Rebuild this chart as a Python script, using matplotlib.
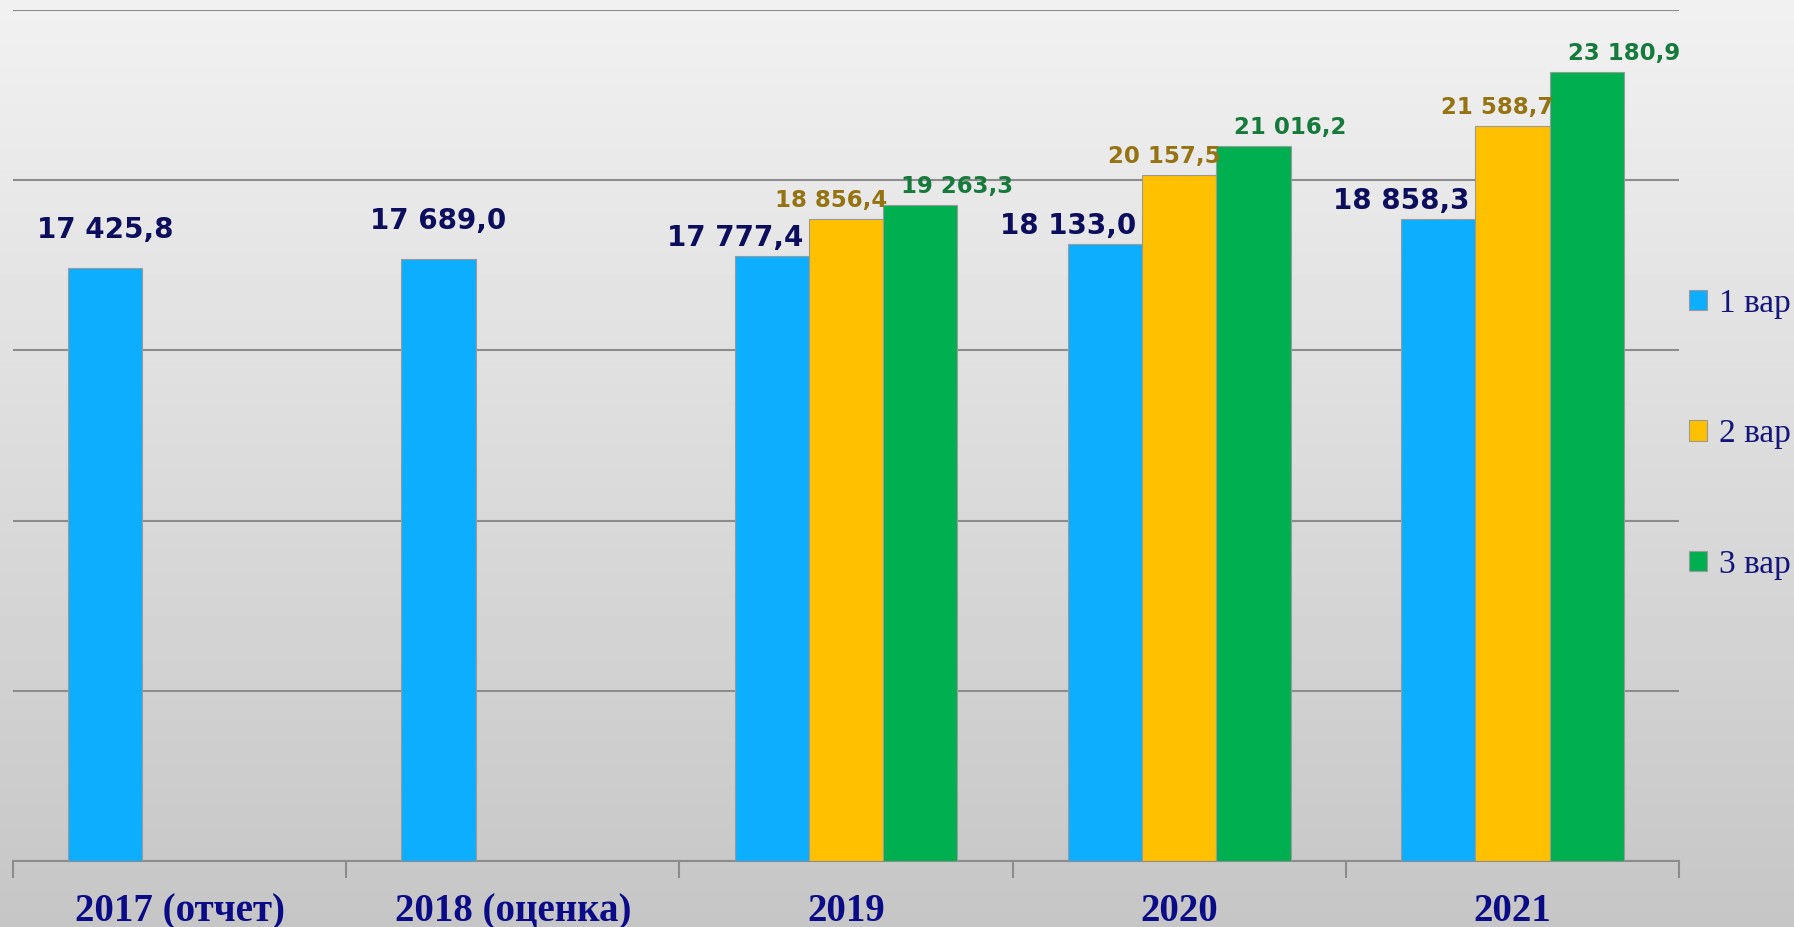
import numpy as np
import matplotlib.pyplot as plt
from matplotlib.patches import Patch

# data
years = ['2017 (отчет)', '2018 (оценка)', '2019', '2020', '2021']
var1 = [17425.8, 17689.0, 17777.4, 18133.0, 18858.3]
var2 = [np.nan, np.nan, 18856.4, 20157.5, 21588.7]
var3 = [np.nan, np.nan, 19263.3, 21016.2, 23180.9]
series_names = ['1 вар', '2 вар', '3 вар']

bar_colors = ['#0eaeff', '#ffc000', '#00b050']
label_colors = ['#0d0d5e', '#957312', '#167a3c']

def fmt(v):
    s = f'{v:,.1f}'
    return s.replace(',', ' ').replace('.', ',')

fig = plt.figure(figsize=(17.94, 9.27), dpi=100)

# gradient background
bg = fig.add_axes([0, 0, 1, 1], zorder=-10)
grad = np.linspace(0.945, 0.775, 256).reshape(-1, 1)
bg.imshow(grad, cmap='gray', vmin=0, vmax=1, aspect='auto', extent=[0, 1, 0, 1])
bg.axis('off')

ax = fig.add_axes([13 / 1794, 1 - 861 / 927, (1679 - 13) / 1794, (861 - 10) / 927])
ax.patch.set_alpha(0)

x = np.arange(len(years))
w = 0.223
series = [var1, var2, var3]
for i, vals in enumerate(series):
    ax.bar(x + (i - 1) * w, vals, w, color=bar_colors[i], edgecolor='#9a9a9a',
           linewidth=0.8, zorder=3)

# value labels
for j in range(len(years)):
    single = np.isnan(var2[j])
    for i, vals in enumerate(series):
        v = vals[j]
        if np.isnan(v):
            continue
        xc = x[j] + (i - 1) * w
        if i == 0:
            if single:
                ax.annotate(fmt(v), (xc, v), xytext=(0, 17), textcoords='offset points',
                            ha='center', va='bottom', fontsize=20, fontweight='bold',
                            color=label_colors[0])
            else:
                ax.annotate(fmt(v), (xc + w / 2, v), xytext=(-4, 3), textcoords='offset points',
                            ha='right', va='bottom', fontsize=20, fontweight='bold',
                            color=label_colors[0])
        elif i == 1:
            ax.annotate(fmt(v), (xc + w / 2, v), xytext=(3, 5), textcoords='offset points',
                        ha='right', va='bottom', fontsize=16.5, fontweight='bold',
                        color=label_colors[1])
        else:
            ax.annotate(fmt(v), (xc - w / 2, v), xytext=(13, 5), textcoords='offset points',
                        ha='left', va='bottom', fontsize=16.5, fontweight='bold',
                        color=label_colors[2])

ax.set_xlim(-0.5, len(years) - 0.5)
ax.set_ylim(0, 25000)
ax.set_yticks(np.arange(0, 25001, 5000))
ax.yaxis.grid(True, color='#8c8c8c', linewidth=1.5, zorder=0)
ax.tick_params(axis='y', length=0, labelleft=False)

ax.set_xticks(x)
ax.set_xticklabels(years, fontfamily='Liberation Serif', fontweight='bold',
                   fontsize=28, color='#0b0b87')
ax.tick_params(axis='x', which='major', length=0, pad=23)
ax.set_xticks(np.arange(-0.5, len(years)), minor=True)
ax.tick_params(axis='x', which='minor', length=12, width=1.5, color='#8c8c8c')

for s in ['top', 'right', 'left']:
    ax.spines[s].set_visible(False)
ax.spines['bottom'].set_color('#8c8c8c')
ax.spines['bottom'].set_linewidth(1.5)

handles = [Patch(facecolor=c, edgecolor='#9a9a9a', linewidth=0.8) for c in bar_colors]
leg = fig.legend(handles, series_names, loc='center left',
                 bbox_to_anchor=(1689 / 1794, 1 - 434 / 927),
                 prop={'family': 'Liberation Serif', 'size': 24},
                 frameon=False, labelspacing=3.0, handlelength=0.55, handleheight=0.55,
                 handletextpad=0.35, borderaxespad=0, borderpad=0)
for t in leg.get_texts():
    t.set_color('#14147a')

fig.savefig('out.png', dpi=100)
